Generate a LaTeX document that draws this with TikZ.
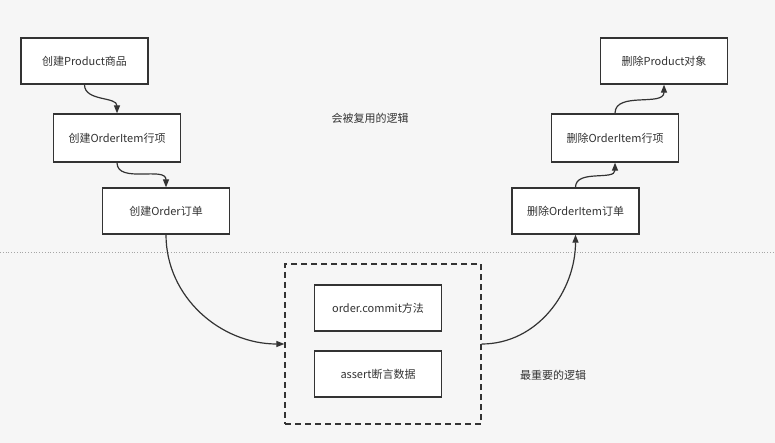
\documentclass[tikz,border=0pt]{standalone}
\usepackage{fontspec}
\newfontfamily\cjk{Noto Sans CJK SC}
\usetikzlibrary{arrows.meta}
\definecolor{ink}{HTML}{333333}
\definecolor{paper}{HTML}{F6F6F6}

\begin{document}
\begin{tikzpicture}[x=1pt,y=-1pt,
  box/.style={draw=ink,fill=white,line width=1.3pt,inner sep=0,
    minimum width=127pt,minimum height=46pt,font=\cjk\fontsize{11}{13}\selectfont,text=ink},
  note/.style={font=\cjk\fontsize{11}{13}\selectfont,text=ink},
  flow/.style={draw=ink,line width=1.2pt,-{Triangle[length=8pt,width=6pt]}}]
  \useasboundingbox[fill=paper] (0,0) rectangle (775,443);

  % build up
  \node (c1) at (84.5,61) [box]{创建Product商品};
  \node (c2) at (117,138) [box,minimum height=48pt]{创建OrderItem行项};
  \node (c3) at (166,211) [box]{创建Order订单};

  % tear down
  \node (d1) at (664,61) [box]{删除Product对象};
  \node (d2) at (615,138) [box,minimum height=48pt]{删除OrderItem行项};
  \node (d3) at (575.5,211) [box]{删除OrderItem订单};

  % the test itself
  \node (core) at (383,344) [draw=ink,line width=1.3pt,dash pattern=on 6pt off 4pt,
    minimum width=196pt,minimum height=160pt,inner sep=0]{};
  \node (commit) at (378,308) [box]{order.commit方法};
  \node (assert) at (378,374) [box]{assert断言数据};

  \node (reuse) at (370,118) [note]{会被复用的逻辑};
  \node (main) at (553,375) [note]{最重要的逻辑};

  \coordinate (sl) at (0,252);
  \coordinate (sr) at (775,252);
  \draw[gray!70,line width=0.8pt,dotted] (sl) -- (sr);

  \draw[flow] (c1.south) to[out=-90,in=90] (c2.north);
  \draw[flow] (c2.south) to[out=-90,in=90] (c3.north);
  \draw[flow] (c3.south) to[out=-90,in=180] (core.west);
  \draw[flow] (core.east) to[out=0,in=-90] (d3.south);
  \draw[flow] (d3.north) to[out=90,in=-90] (d2.south);
  \draw[flow] (d2.north) to[out=90,in=-90] (d1.south);

\end{tikzpicture}
\end{document}
